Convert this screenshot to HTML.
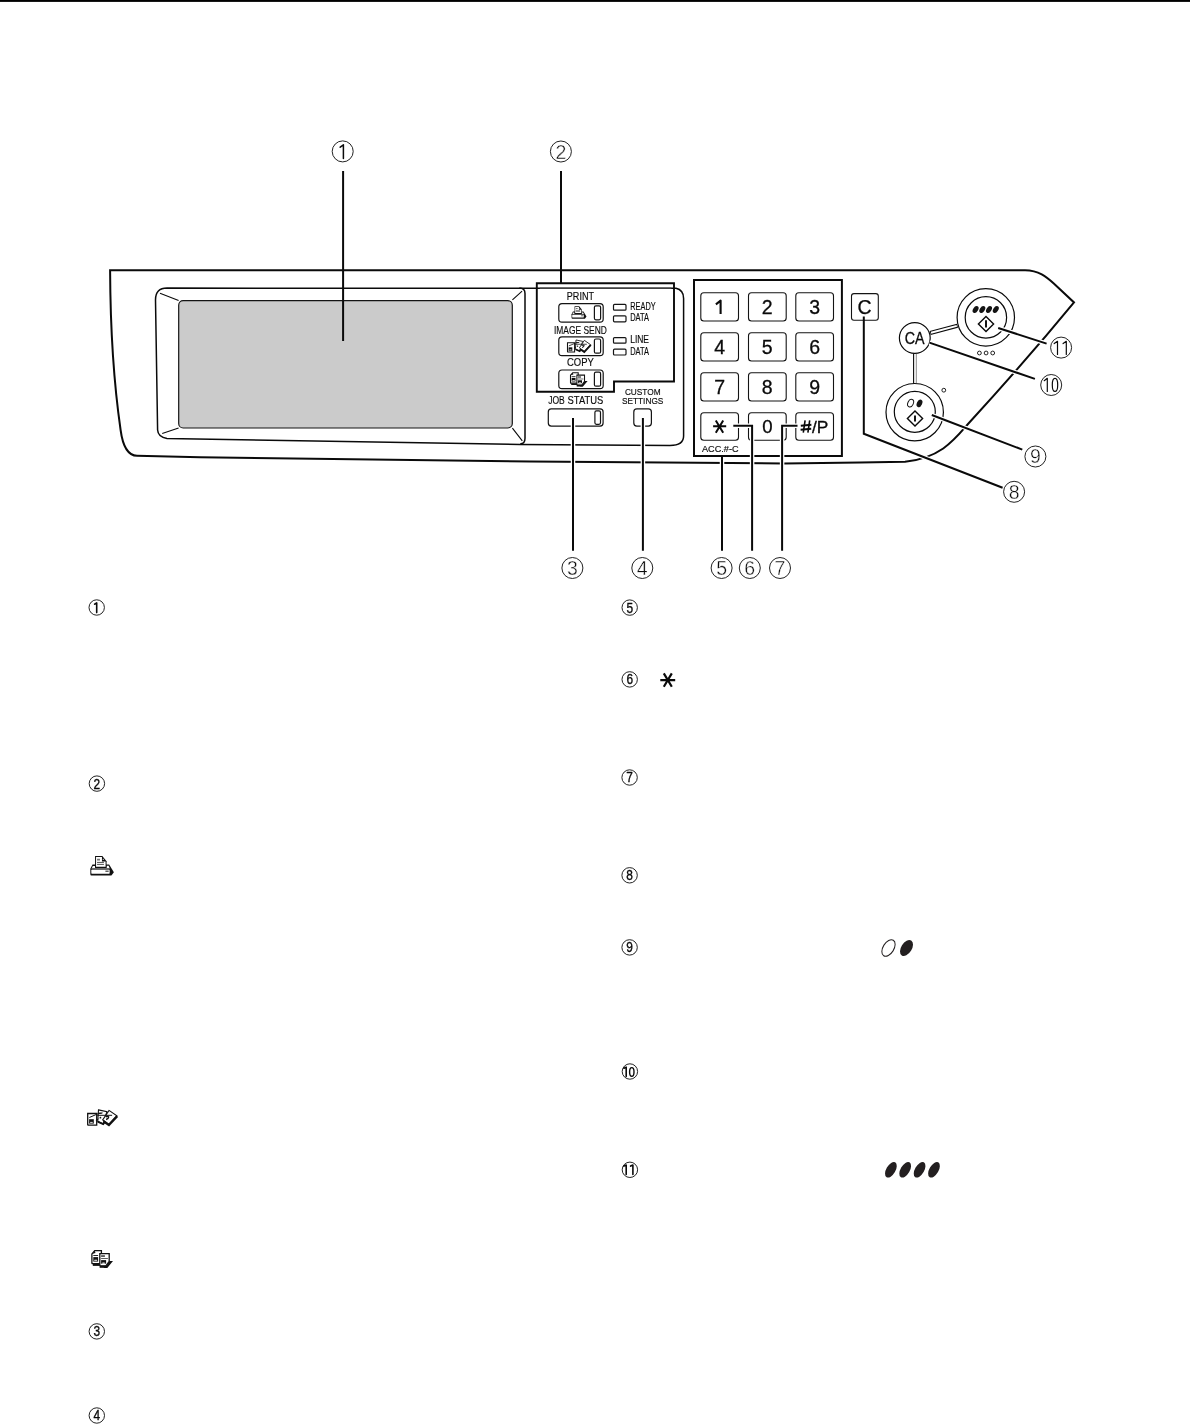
<!DOCTYPE html>
<html><head><meta charset="utf-8">
<style>
html,body{margin:0;padding:0;background:#fff;}
body{width:1190px;height:1427px;overflow:hidden;position:relative;font-family:"Liberation Sans",sans-serif;}
svg{position:absolute;left:0;top:0;}
.k{fill:none;stroke:#0a0a0a;}
text{font-family:"Liberation Sans",sans-serif;fill:#0a0a0a;}
svg{will-change:transform;}
</style></head>
<body>
<svg width="1190" height="1427" viewBox="0 0 1190 1427">
<!-- top rule -->
<rect x="0" y="0" width="1190" height="1.9" fill="#000"/>

<!-- ===== PANEL ===== -->
<g id="panel">
<!-- outer panel outline -->
<path class="k" stroke-width="2" d="M120.6,430 Q110.5,360 110.1,270.3 L1025,270.3 C1039,270.6 1046,276.5 1053.8,283.5 L1074,302.4 Q1025,362 968,424 C955,439 941,458 905,461.8 L860,462.6 L784,463.5 Q650,462.6 530,461.4 L200,457.3 L137,455.8 C128,455.6 122.6,445 120.6,430 Z"/>

<!-- screen bezel + right section outline -->
<path class="k" stroke-width="1.5" d="M167,288.1 L676,288.3 Q683.6,290 683.6,298.4 L683.6,436 Q683.6,445.5 670,445.5 L520,444.4 L167,438.4 Q158,437 157.6,430 L155.5,300 Q155.5,288.1 167,288.1 Z"/>
<path class="k" stroke-width="1.5" d="M519.4,288.1 Q525,288.1 525,293.4 L525,438.2 Q525,443.8 520.3,443.8"/>
<!-- gray screen -->
<rect x="178.7" y="300.7" width="333.6" height="127.3" rx="4.5" fill="#cbcbcb" stroke="#141414" stroke-width="1.2"/>
<!-- bevel diagonals -->
<path class="k" stroke-width="1.1" d="M160,293.2 L178.6,300.4 M162.2,433.4 L178.6,427.9 M512.4,299.8 L522.1,291.2 M512.4,428.2 L522.3,440.8"/>

<!-- mode box -->
<path fill="#fff" class="k" stroke-width="1.9" d="M536.8,283.2 L674,283.2 L674,381.5 L614,381.5 L614,391.7 L536.8,391.7 Z"/>
<line x1="539.8" y1="288.1" x2="671.4" y2="288.1" stroke="#555" stroke-width="1.1"/>

<!-- mode buttons -->
<g stroke="#141414" fill="none" stroke-width="1.2">
<rect x="558.8" y="303.6" width="44.4" height="18.6" rx="3.2"/>
<rect x="594.4" y="305.8" width="6.2" height="14" rx="1.5"/>
<rect x="558.8" y="336.8" width="44.4" height="18.8" rx="3.2"/>
<rect x="594.4" y="339" width="6.2" height="14.2" rx="1.5"/>
<rect x="558.8" y="370" width="44.4" height="18.6" rx="3.2"/>
<rect x="594.4" y="372.2" width="6.2" height="14" rx="1.5"/>
<!-- LEDs -->
<rect x="613.5" y="304.4" width="12.5" height="5.8" rx="1"/>
<rect x="613.5" y="315.8" width="12.5" height="6" rx="1"/>
<rect x="613.5" y="337.6" width="12.5" height="5.6" rx="1"/>
<rect x="613.5" y="349.2" width="12.5" height="5.8" rx="1"/>
<!-- job status -->
<rect x="548.3" y="408.9" width="54.8" height="17.2" rx="3"/>
<rect x="594.9" y="410.9" width="5.6" height="13.4" rx="1.5"/>
<!-- custom settings -->
<rect x="633.8" y="408.9" width="17.6" height="17.2" rx="3"/>
</g>

<!-- mode labels -->
<g font-size="10.2" stroke="#0a0a0a" stroke-width="0.15">
<text x="566.8" y="299.9" textLength="27.2" lengthAdjust="spacingAndGlyphs">PRINT</text>
<text x="554" y="333.5" textLength="52.8" lengthAdjust="spacingAndGlyphs">IMAGE SEND</text>
<text x="567" y="366.4" textLength="26.8" lengthAdjust="spacingAndGlyphs">COPY</text>
<text x="630.2" y="309.7" textLength="25.5" lengthAdjust="spacingAndGlyphs">READY</text>
<text x="630.2" y="321.4" textLength="18.8" lengthAdjust="spacingAndGlyphs">DATA</text>
<text x="630.2" y="342.9" textLength="18.8" lengthAdjust="spacingAndGlyphs">LINE</text>
<text x="630.2" y="354.6" textLength="18.8" lengthAdjust="spacingAndGlyphs">DATA</text>
<text x="548.2" y="403.6" textLength="16.6" lengthAdjust="spacingAndGlyphs">JOB</text><text x="567.6" y="403.6" textLength="35.7" lengthAdjust="spacingAndGlyphs">STATUS</text>
<text x="624.9" y="395.4" font-size="9.5" textLength="35.7" lengthAdjust="spacingAndGlyphs">CUSTOM</text>
<text x="621.9" y="403.7" font-size="9.7" textLength="41.5" lengthAdjust="spacingAndGlyphs">SETTINGS</text>
</g>

<!-- keypad box -->
<rect x="694" y="280" width="147.9" height="176" fill="none" stroke="#0a0a0a" stroke-width="2"/>
<g stroke="#141414" fill="none" stroke-width="1.1">
<rect x="700.8" y="292.7" width="37.7" height="28.3" rx="3"/>
<rect x="748.5" y="292.7" width="37.7" height="28.3" rx="3"/>
<rect x="795.8" y="292.7" width="37.7" height="28.3" rx="3"/>
<rect x="700.8" y="332.7" width="37.7" height="28.3" rx="3"/>
<rect x="748.5" y="332.7" width="37.7" height="28.3" rx="3"/>
<rect x="795.8" y="332.7" width="37.7" height="28.3" rx="3"/>
<rect x="700.8" y="372.7" width="37.7" height="28.3" rx="3"/>
<rect x="748.5" y="372.7" width="37.7" height="28.3" rx="3"/>
<rect x="795.8" y="372.7" width="37.7" height="28.3" rx="3"/>
<rect x="700.8" y="412.7" width="37.7" height="27.6" rx="3"/>
<rect x="748.5" y="412.7" width="37.7" height="27.6" rx="3"/>
<rect x="795.8" y="412.7" width="37.7" height="27.6" rx="3"/>
<!-- C key -->
<rect x="851.5" y="293.6" width="26.8" height="26.6" rx="2.5"/>
</g>
<g font-size="19.5" text-anchor="middle" stroke="#0a0a0a" stroke-width="0.3">
<text x="767.3" y="314">2</text><text x="814.6" y="314">3</text>
<text x="719.6" y="354">4</text><text x="767.3" y="354">5</text><text x="814.6" y="354">6</text>
<text x="719.6" y="394">7</text><text x="767.3" y="394">8</text><text x="814.6" y="394">9</text>
<text x="767.3" y="432.9" font-size="18.6">0</text>
<text x="811.9" y="432.6" font-size="17.2" text-anchor="start" textLength="16.4" lengthAdjust="spacingAndGlyphs">/P</text>
<text x="864.6" y="314" stroke="#0a0a0a" stroke-width="0.25">C</text>
</g>
<path fill="none" stroke="#0a0a0a" stroke-width="2.1" stroke-linejoin="round" d="M715.9,304.3 L720.6,300.7 V314"/>
<path fill="none" stroke="#0a0a0a" stroke-width="1.6" d="M803.3,432.6 L805.1,420.4 M807.9,432.6 L809.7,420.4"/>
<path fill="none" stroke="#0a0a0a" stroke-width="2" d="M800.8,425.8 L811.4,424.8 M800.6,429.7 L811.2,428.7"/>
<!-- asterisk -->
<path class="k" stroke-width="2" d="M713.1,426.2 L726.2,426.2 M715.8,420.6 L723.2,432.8 M723.2,420.6 L715.8,432.8"/>
<text x="702" y="451.7" font-size="8.8" stroke="#0a0a0a" stroke-width="0.15" textLength="36.6" lengthAdjust="spacingAndGlyphs">ACC.#-C</text>

<!-- CA & start buttons -->
<g class="k" stroke-width="1.2">
<circle cx="914.8" cy="338" r="15.4"/>
<circle cx="985.8" cy="317.4" r="28.7"/>
<circle cx="985.9" cy="317.4" r="20.7"/>
<circle cx="914.7" cy="412.2" r="28.7"/>
<circle cx="914.8" cy="411.8" r="20.5"/>
<circle cx="979.4" cy="353" r="1.9" stroke-width="0.9"/>
<circle cx="986.1" cy="353" r="1.9" stroke-width="0.9"/>
<circle cx="992.7" cy="353" r="1.9" stroke-width="0.9"/>
<circle cx="943.8" cy="390.2" r="1.9" stroke-width="0.9"/>
<path stroke-width="1.4" d="M986,316.6 L993.6,324.1 L986,331.6 L978.4,324.1 Z M915,411 L922.6,418.5 L915,426 L907.4,418.5 Z"/>
</g>
<path stroke="#141414" stroke-width="2" d="M986,320.2 V327.6 M915,415.4 V421.6"/>
<text x="914.6" y="343.5" font-size="16.4" stroke="#0a0a0a" stroke-width="0.3" text-anchor="middle" textLength="19.8" lengthAdjust="spacingAndGlyphs">CA</text>
<!-- dots on color button -->
<g fill="#141414">
<ellipse cx="975.6" cy="309.5" rx="2.5" ry="3.8" transform="rotate(33 975.6 309.5)"/>
<ellipse cx="982.3" cy="309.5" rx="2.5" ry="3.8" transform="rotate(33 982.3 309.5)"/>
<ellipse cx="989" cy="309.5" rx="2.5" ry="3.8" transform="rotate(33 989 309.5)"/>
<ellipse cx="995.8" cy="309.5" rx="2.5" ry="3.8" transform="rotate(33 995.8 309.5)"/>
<ellipse cx="919.5" cy="403.4" rx="2.6" ry="4" transform="rotate(25 919.5 403.4)"/>
</g>
<ellipse cx="910.6" cy="403.2" rx="2.7" ry="4" transform="rotate(25 910.6 403.2)" fill="none" stroke="#141414" stroke-width="1"/>

<!-- double lines from CA -->
<path stroke="#0a0a0a" stroke-width="4" d="M930.2,333 L957.5,325.7"/>
<path stroke="#fff" stroke-width="2" d="M931,332.8 L956.8,325.9"/>
<path stroke="#0a0a0a" stroke-width="1.1" d="M913.6,353.6 V383.4"/>
<path stroke="#8a8a8a" stroke-width="1" d="M916.3,354 V383"/>
</g>

<!-- ===== LEADER LINES (with halos) ===== -->
<g fill="none" stroke-linecap="butt">
<g stroke="#fff" stroke-width="4.5">
<path d="M736,425.8 H752.1 V548 M797,425.8 H782.1 V548 M722,458.5 V548 M863.8,322 V433.8 L1002.6,487.8 M931.8,415 L1022.3,449.6 M929.4,342.6 L1034.9,378.9 M998.2,328 L1046.6,343.6 M573,418.1 V550.8 M642.9,418.1 V550.8"/>
</g>
<g stroke="#0a0a0a" stroke-width="2">
<path d="M343.1,171 V341.1 M561,171 V283.2"/>
<path d="M573,418.1 V550.8 M642.9,418.1 V550.8 M722,456 V550.8"/>
<path d="M733.3,425.8 H752.1 V550.8 M797.5,425.8 H782.1 V550.8"/>
<path d="M863.8,316.6 V433.8 L1002.6,487.8 M931.8,415 L1022.3,449.6 M929.4,342.6 L1034.9,378.9 M998.2,328 L1046.6,343.6"/>
</g>
</g>

<!-- ===== CIRCLED NUMBERS (big) ===== -->
<g class="k" stroke-width="0.9">
<circle cx="342.7" cy="151.4" r="10.5"/>
<circle cx="560.9" cy="151.5" r="10.5"/>
<circle cx="572.4" cy="568" r="10.5"/>
<circle cx="642.3" cy="568" r="10.5"/>
<circle cx="721.6" cy="568" r="10.5"/>
<circle cx="749.8" cy="568" r="10.5"/>
<circle cx="780" cy="568" r="10.5"/>
<circle cx="1014.1" cy="491.8" r="10.5"/>
<circle cx="1035.4" cy="456.5" r="10.5"/>
<circle cx="1051.2" cy="385" r="10.5"/>
<circle cx="1061.1" cy="347.6" r="10.5"/>
</g>
<g font-size="19.5" text-anchor="middle" stroke="#fff" stroke-width="0.4">
<text x="560.9" y="158.8">2</text>
<text x="572.4" y="574.9">3</text>
<text x="642.3" y="574.9">4</text>
<text x="721.6" y="574.9">5</text>
<text x="749.8" y="574.9">6</text>
<text x="780" y="574.9">7</text>
<text x="1014.1" y="498.7">8</text>
<text x="1035.4" y="463.4">9</text>
</g>
<g fill="none" stroke="#0a0a0a" stroke-linecap="round" stroke-linejoin="round">
<path stroke-width="1.5" d="M340.2,147.2 L343.4,144.8 V158.6"/>
<path stroke-width="1.2" d="M1044.2,380.7 L1047.3,378.3 V391.5"/>
<ellipse cx="1055" cy="384.9" rx="2.7" ry="6.5" stroke-width="1.2"/>
<path stroke-width="1.2" d="M1054.2,343.6 L1057.5,341.3 V354.5 M1063.1,343.6 L1066.3,341.3 V354.5"/>
</g>

<!-- ===== BODY small circled numbers ===== -->
<g class="k" stroke-width="0.9">
<circle cx="96.7" cy="607.5" r="7.7"/>
<circle cx="96.9" cy="783.6" r="7.7"/>
<circle cx="96.8" cy="1331.4" r="7.7"/>
<circle cx="96.8" cy="1415.5" r="7.7"/>
<circle cx="629.7" cy="607.6" r="7.7"/>
<circle cx="629.7" cy="679.4" r="7.7"/>
<circle cx="629.6" cy="777.5" r="7.7"/>
<circle cx="629.6" cy="875.3" r="7.7"/>
<circle cx="629.6" cy="947.4" r="7.7"/>
<circle cx="629.9" cy="1071.5" r="7.7"/>
<circle cx="629.9" cy="1169.8" r="7.7"/>
</g>
<g font-size="14" text-anchor="middle" stroke="#0a0a0a" stroke-width="0.35">
<text transform="translate(96.9 788.5) scale(0.85 1)">2</text>
<text transform="translate(96.8 1336.3) scale(0.85 1)">3</text>
<text transform="translate(96.8 1420.4) scale(0.85 1)">4</text>
<text transform="translate(629.7 612.5) scale(0.85 1)">5</text>
<text transform="translate(629.7 684.3) scale(0.85 1)">6</text>
<text transform="translate(629.6 782.4) scale(0.85 1)">7</text>
<text transform="translate(629.6 880.2) scale(0.85 1)">8</text>
<text transform="translate(629.6 952.3) scale(0.85 1)">9</text>
</g>
<g fill="none" stroke="#0a0a0a" stroke-linecap="round" stroke-linejoin="round" stroke-width="1.6">
<path d="M94.6,604.2 L96.7,602.9 V612.6"/>
<path d="M623.9,1068.2 L626.2,1067.2 V1076.4"/>
<ellipse cx="631.8" cy="1071.9" rx="2.2" ry="4.3" stroke-width="1.4"/>
<path d="M623.9,1166.1 L626.2,1165.1 V1174.4 M630.6,1166.1 L632.9,1165.1 V1174.4"/>
</g>

<!-- asterisk in body -->
<path class="k" stroke-width="2.2" d="M660.3,680.1 H675.2 M663.8,673.4 L671.8,686.8 M671.8,673.4 L663.8,686.8"/>

<!-- ellipses in body -->
<ellipse cx="888.5" cy="948" rx="5.4" ry="9.1" transform="rotate(32 888.5 948)" fill="none" stroke="#231f20" stroke-width="1"/>
<ellipse cx="906.5" cy="948" rx="5.3" ry="8.9" transform="rotate(32 906.5 948)" fill="#231f20"/>
<g fill="#231f20">
<ellipse cx="890.9" cy="1169.8" rx="4.6" ry="8.6" transform="rotate(30 890.9 1169.8)"/>
<ellipse cx="905.2" cy="1169.8" rx="4.6" ry="8.6" transform="rotate(30 905.2 1169.8)"/>
<ellipse cx="919.6" cy="1169.8" rx="4.6" ry="8.6" transform="rotate(30 919.6 1169.8)"/>
<ellipse cx="934" cy="1169.8" rx="4.6" ry="8.6" transform="rotate(30 934 1169.8)"/>
</g>

<!-- icons placeholder -->
<g id="icons"><defs>
<symbol id="printer" viewBox="0 0 24 20" overflow="visible">
<path d="M2.2,8.5 H19.1 L23.9,16.3 L21.4,19.8 H1 Q0,19.7 0,18.1 V12.8 Z" fill="#111"/>
<path d="M2.5,10 H4.8 V12.4 H1.5 Z" fill="#fff"/>
<path d="M16.4,9.9 H18.6 L19.6,12.4 H16.4 Z" fill="#fff"/>
<rect x="1.2" y="12.1" width="18.4" height="1.5" fill="#6a6a6a"/>
<rect x="1" y="13.9" width="18.6" height="3.9" rx="0.6" fill="#fff"/>
<rect x="15.3" y="14.8" width="3.3" height="1" fill="#111"/>
<path d="M4.8,0 H12.2 L16.5,5.2 V11.9 H4.8 Z" fill="#111"/>
<path d="M5.8,1 H11.8 V5.5 H15.5 V10.9 H5.8 Z" fill="#fff"/>
<circle cx="13.1" cy="3.3" r="0.6" fill="#fff"/>
<rect x="6.8" y="2.7" width="3" height="1.8" fill="#777"/>
<rect x="6.8" y="5.9" width="7" height="0.95" fill="#444"/>
<rect x="6.8" y="7.9" width="7" height="0.95" fill="#444"/>
</symbol>
<symbol id="isend" viewBox="0 0 30.3 16.3" overflow="visible">
<path d="M0.6,4 H9.6 V15.7 H1.4 Q0.6,15.7 0.6,14.9 Z" fill="#fff" stroke="#111" stroke-width="1.3"/>
<rect x="2" y="9.7" width="4.7" height="4.4" fill="#111"/>
<rect x="3.1" y="12.4" width="2.5" height="0.9" fill="#fff"/>
<path d="M11.4,0.4 L19.8,2.2 L16.1,14.4 L10.6,12 Z" fill="#fff" stroke="#111" stroke-width="1.1"/>
<path d="M10.6,12.1 L16.1,14.6 L17.2,13.2" stroke="#111" stroke-width="2" fill="none"/>
<path d="M21.9,0.9 L29.8,6.4 L21.7,14.8 L15.6,10.4 Z" fill="#fff" stroke="#111" stroke-width="1.1"/>
<path d="M30.1,6.6 L21.8,15.6 L16.4,11.8" stroke="#111" stroke-width="2.3" fill="none"/>
<path d="M2.2,8 L10.5,4.4 L15.5,3.4 M10.2,5.8 H25 M11.2,3.6 H14.5 M8.8,10.7 L11.5,9.4" stroke="#111" stroke-width="1" fill="none"/>
<path d="M18.6,7.4 Q20.5,6.2 21.6,7.4 Q21.4,9.4 19,10" stroke="#111" stroke-width="1.4" fill="none"/>
<circle cx="13.3" cy="8.2" r="0.9" fill="#111"/>
</symbol>
<symbol id="copy" viewBox="0 0 21.7 17.8" overflow="visible">
<path d="M3.4,0.6 H10.1 V13.5 H1.2 Q0.6,13.5 0.6,12.9 V3.8 Z" fill="#fff" stroke="#111" stroke-width="1.3"/>
<path d="M0.6,3.8 L3.4,0.6 L4.2,3 Z" fill="#111"/>
<rect x="1.5" y="13.9" width="8.8" height="1.9" fill="#111"/>
<rect x="2" y="4.9" width="4.8" height="0.9" fill="#111"/>
<rect x="2" y="7" width="4.8" height="4.5" fill="#111"/>
<rect x="2.8" y="9.7" width="3.2" height="0.9" rx="0.4" fill="#fff"/>
<path d="M17.9,11 H21.7 L16,17.8 H12 L15,15.5 Z" fill="#111"/>
<path d="M8.5,3.6 H17.9 V11.3 L14.6,15.8 H9.3 Q8.5,15.8 8.5,15 Z" fill="#fff" stroke="#111" stroke-width="1.3"/>
<rect x="8.3" y="15.6" width="7.4" height="2.1" fill="#111"/>
<rect x="9.8" y="5.2" width="3.8" height="1.5" fill="#333"/>
<rect x="9.8" y="8" width="6.8" height="0.8" fill="#333"/>
<rect x="9.8" y="10" width="5" height="3.6" fill="#111"/>
<ellipse cx="12.3" cy="13" rx="1.8" ry="0.6" fill="#fff"/>
</symbol>
</defs>
<use href="#printer" x="571.2" y="306.3" width="15.7" height="12.5" preserveAspectRatio="none"/>
<use href="#isend" x="567" y="339.4" width="24" height="13.4" preserveAspectRatio="none"/>
<use href="#copy" x="570" y="372.1" width="17.6" height="14.6" preserveAspectRatio="none"/>
<use href="#printer" x="90.3" y="856.1" width="23.7" height="19.7" preserveAspectRatio="none"/>
<use href="#isend" x="87.1" y="1109.5" width="30.3" height="16.3" preserveAspectRatio="none"/>
<use href="#copy" x="91.3" y="1250.1" width="21.7" height="17.8" preserveAspectRatio="none"/>
</g>
</svg>
</body></html>
